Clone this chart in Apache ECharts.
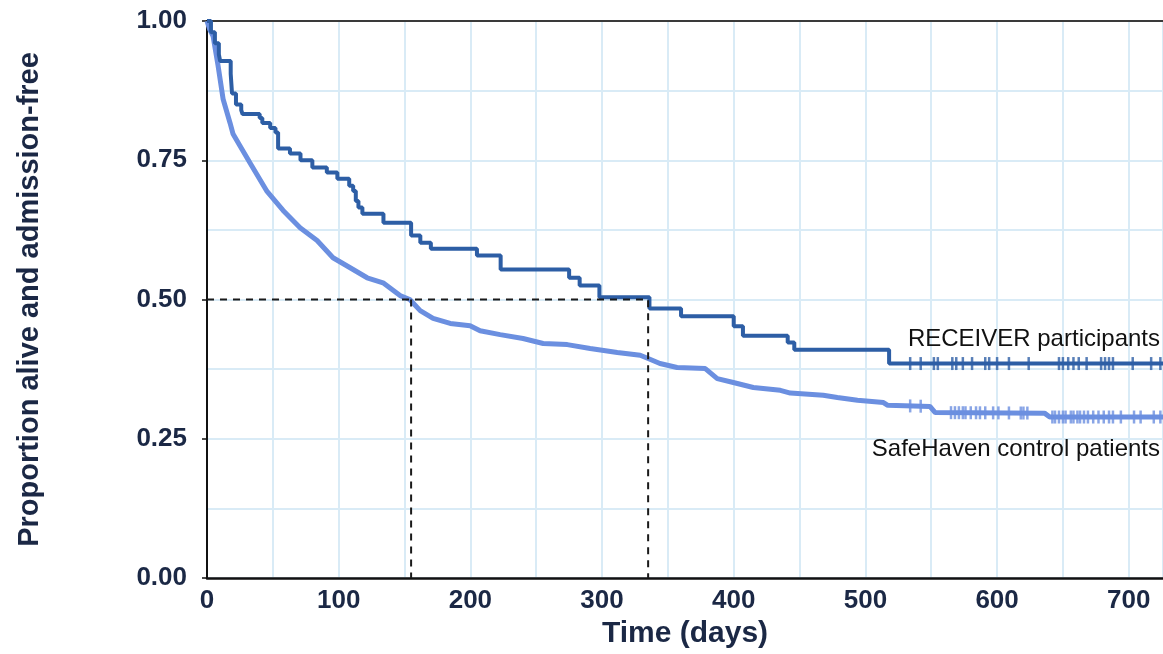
<!DOCTYPE html>
<html>
<head>
<meta charset="utf-8">
<script src="https://cdn.jsdelivr.net/npm/echarts@6/dist/echarts.min.js"></script>
<style>
  html, body { margin: 0; padding: 0; background: #fff; }
  #chart { width: 1163px; height: 654px; }
</style>
</head>
<body>
<div id="chart"></div>
<script>
// RECEIVER participants (Kaplan-Meier steps)
const receiverTime = [0, 3, 6, 9, 10, 18, 19, 22, 26, 27, 40, 42, 48, 52, 54, 63, 71, 80, 91, 99,
  108, 111, 113, 115, 118, 134, 155, 162, 170, 205, 223, 275, 283, 298, 336, 360, 400, 407, 441, 446, 518];
const receiverSurv = [1, 0.98, 0.96, 0.94, 0.928, 0.905, 0.87, 0.85, 0.84, 0.833, 0.826, 0.817, 0.808, 0.80, 0.771,
  0.762, 0.75, 0.737, 0.728, 0.717, 0.704, 0.695, 0.677, 0.665, 0.654, 0.638, 0.615, 0.602, 0.591, 0.579,
  0.554, 0.539, 0.525, 0.504, 0.484, 0.470, 0.452, 0.435, 0.423, 0.410, 0.385];
const receiverCensor = [534, 542, 552, 555, 566, 569, 574, 581, 591, 594, 600, 609, 624, 647, 650, 654,
  658, 662, 668, 679, 682, 685, 688, 703, 717, 724];

// SafeHaven control patients (dense steps, traced as a line)
const safeTime = [0, 2, 4.6, 8.4, 12.2, 17.5, 19.8, 25, 32.7, 45.6, 57.8, 70.7, 83.6, 95.7, 108.7, 121.6,
  133.7, 146.6, 154, 161.9, 171.7, 184.7, 199.8, 207.4, 222.6, 240, 255.3, 273.6, 291, 311.6, 329, 335,
  344, 357, 378.4, 387.5, 399.7, 414.9, 435.4, 443, 468, 478.7, 494, 513.7, 517, 549, 553, 636, 640];
const safeSurv = [1, 0.985, 0.973, 0.92, 0.86, 0.817, 0.797, 0.776, 0.745, 0.694, 0.66, 0.629, 0.606, 0.575,
  0.557, 0.539, 0.53, 0.507, 0.50, 0.48, 0.466, 0.457, 0.453, 0.444, 0.437, 0.43, 0.421, 0.419, 0.412,
  0.405, 0.40, 0.394, 0.385, 0.378, 0.376, 0.358, 0.351, 0.342, 0.337, 0.332, 0.328, 0.324, 0.319,
  0.315, 0.31, 0.308, 0.297, 0.296, 0.289];
const safeCensor = [534, 542, 565, 568, 571, 574, 576, 580, 584, 587, 591, 597, 601, 609, 618, 620, 623,
  642, 644, 647, 650, 652, 656, 658, 661, 663, 666, 669, 673, 677, 681, 685, 688, 694, 704, 709, 719, 724];

// median survival guides
const medianLevel = 0.5;
const medianTimes = [155, 335];

const xMax = 726;
const darkBlue = '#2d5ea5';
const lightBlue = '#6b8fe0';
const labelColor = '#1b2845';
const gridColor = '#d9ebf6';
const font = 'Liberation Sans, Arial';

function stepAt(times, vals, t) {
  let v = vals[0];
  for (let i = 0; i < times.length; i++) if (times[i] <= t) v = vals[i];
  return v;
}
function lineAt(times, vals, t) {
  for (let i = 1; i < times.length; i++) {
    if (t <= times[i]) {
      const f = (t - times[i - 1]) / (times[i] - times[i - 1]);
      return vals[i - 1] + f * (vals[i] - vals[i - 1]);
    }
  }
  return vals[vals.length - 1];
}

const receiverData = receiverTime.map((t, i) => [t, receiverSurv[i]]);
receiverData.push([xMax, receiverSurv[receiverSurv.length - 1]]);
const safeData = safeTime.map((t, i) => [t, safeSurv[i]]);
safeData.push([xMax, safeSurv[safeSurv.length - 1]]);

const chart = echarts.init(document.getElementById('chart'));
const option = {
  animation: false,
  backgroundColor: '#fff',
  grid: { left: 207, top: 21, right: 0, bottom: 76 },
  xAxis: [
    {
      type: 'value', min: 0, max: xMax, interval: 50, position: 'bottom',
      name: 'Time (days)', nameLocation: 'middle', nameGap: 38,
      nameTextStyle: { color: labelColor, fontSize: 30, fontWeight: 'bold', fontFamily: font },
      axisLine: { show: true, onZero: false, lineStyle: { color: '#111', width: 2.5 } },
      axisTick: { show: false },
      axisLabel: {
        color: labelColor, fontSize: 26, fontWeight: 'bold', fontFamily: font,
        margin: 10, showMaxLabel: false,
        formatter: v => (v % 100 === 0 ? String(v) : '')
      },
      splitLine: { show: true, lineStyle: { color: gridColor, width: 2 } }
    },
    {
      // top frame line
      type: 'value', min: 0, max: xMax, position: 'top',
      axisLine: { show: true, onZero: false, lineStyle: { color: '#3a3a3a', width: 2 } },
      axisTick: { show: false }, axisLabel: { show: false }, splitLine: { show: false }
    }
  ],
  yAxis: {
    type: 'value', min: 0, max: 1, interval: 0.25,
    name: 'Proportion alive and admission-free', nameLocation: 'middle', nameGap: 163,
    nameTextStyle: { color: labelColor, fontSize: 29, fontWeight: 'bold', fontFamily: font },
    axisLine: { show: true, lineStyle: { color: '#111', width: 2 } },
    axisTick: { show: true, length: 5, lineStyle: { color: '#111', width: 1.5 } },
    axisLabel: {
      color: labelColor, fontSize: 26, fontWeight: 'bold', fontFamily: font,
      margin: 20, formatter: v => v.toFixed(2)
    },
    splitLine: { show: true, lineStyle: { color: gridColor, width: 2 } },
    minorTick: { show: false, splitNumber: 2 },
    minorSplitLine: { show: true, lineStyle: { color: gridColor, width: 2 } }
  },
  series: [
    {
      name: 'SafeHaven control patients', type: 'line', data: safeData,
      showSymbol: false, symbol: 'none',
      lineStyle: { color: lightBlue, width: 5 }, z: 2
    },
    {
      name: 'RECEIVER participants', type: 'line', step: 'end', data: receiverData,
      showSymbol: false, symbol: 'none',
      lineStyle: { color: darkBlue, width: 4 }, z: 3
    },
    {
      type: 'scatter', symbol: 'rect', symbolSize: [2.5, 13],
      itemStyle: { color: lightBlue },
      data: safeCensor.map(t => [t, lineAt(safeTime, safeSurv, t)]), z: 4
    },
    {
      type: 'scatter', symbol: 'rect', symbolSize: [2.5, 13],
      itemStyle: { color: darkBlue },
      data: receiverCensor.map(t => [t, stepAt(receiverTime, receiverSurv, t)]), z: 4
    },
    {
      type: 'line', symbol: 'none',
      data: [[0, medianLevel], [medianTimes[1], medianLevel], [medianTimes[1], 0]],
      lineStyle: { color: '#1a1a1a', width: 2, type: [7, 6] }, z: 5
    },
    {
      type: 'line', symbol: 'none',
      data: [[medianTimes[0], medianLevel], [medianTimes[0], 0]],
      lineStyle: { color: '#1a1a1a', width: 2, type: [7, 6] }, z: 5
    }
  ],
  graphic: [
    {
      type: 'text', right: 3, top: 327, z: 10,
      style: { text: 'RECEIVER participants', fill: '#111', fontSize: 24, fontFamily: font }
    },
    {
      type: 'text', right: 3, top: 437, z: 10,
      style: { text: 'SafeHaven control patients', fill: '#111', fontSize: 24, fontFamily: font }
    }
  ]
};
chart.setOption(option);
</script>
</body>
</html>
